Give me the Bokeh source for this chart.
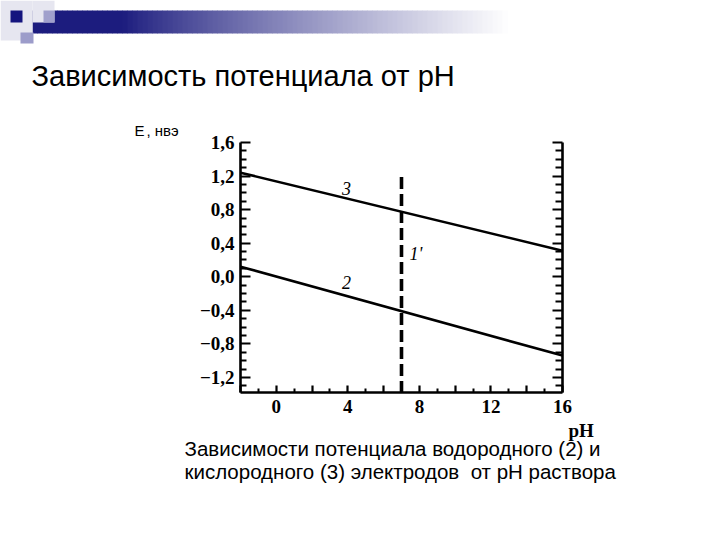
from bokeh.plotting import figure
from bokeh.models import (Range1d, LinearAxis, FixedTicker, CustomJSTickFormatter)
from bokeh.core.properties import value
from bokeh.embed import file_html
from bokeh.resources import INLINE

# ---------------- data ----------------
ph = [-2, 16]
e_hydrogen = [0.12, -0.94]      # line 2
e_oxygen = [1.24, 0.31]         # line 3
neutral_ph = [7, 7]             # line 1'
neutral_e = [1.19, -1.38]

y_major_ticks = [-1.2, -0.8, -0.4, 0.0, 0.4, 0.8, 1.2, 1.6]
y_minor_ticks = [-1.3, -1.1, -1.0, -0.9, -0.7, -0.6, -0.5, -0.3, -0.2, -0.1,
                 0.1, 0.2, 0.3, 0.5, 0.6, 0.7, 0.9, 1.0, 1.1, 1.3, 1.4, 1.5]
x_major_ticks = [-2, 0, 2, 4, 6, 8, 10, 12, 14, 16]
x_minor_ticks = [-1, 1, 3, 5, 7, 9, 11, 13, 15]

curve_labels = ["3", "2", "1'"]
curve_label_x = [3.93, 3.93, 7.81]
curve_label_y = [1.05, -0.065, 0.274]

title_text = "Зависимость потенциала от pH"
caption_lines = ["Зависимости потенциала водородного (2) и",
                 "кислородного (3) электродов\u00a0 от pH раствора"]

SANS = "'Liberation Sans', Arial, sans-serif"
SERIF = "'Liberation Serif', 'Times New Roman', serif"

# ---------------- geometry ----------------
W, H = 720, 540
FL, FR, FT, FB = 240, 562, 142, 392          # chart box in canvas pixels
X0, X1, Y0, Y1 = -2.0, 16.0, -1.38, 1.6      # chart box in data units
sx = (X1 - X0) / (FR - FL)
sy = (Y1 - Y0) / (FB - FT)
x_range = Range1d(X0 - FL * sx, X1 + (W - FR) * sx)
y_range = Range1d(Y0 - (H - FB) * sy, Y1 + FT * sy)

p = figure(width=W, height=H, x_range=x_range, y_range=y_range,
           output_backend="svg", toolbar_location=None,
           x_axis_location=None, y_axis_location=None, min_border=0)
p.grid.visible = False
p.outline_line_color = None
p.extra_x_ranges = {"px": Range1d(0, W)}
p.extra_y_ranges = {"px": Range1d(H, 0)}

# ---------------- slide decoration + title ----------------
n = 95
lefts, rights, cols = [], [], []
for i in range(n):
    x0 = 32 + i * 5
    t = max(0.0, (x0 - 120) / 385.0)
    t = min(1.0, t) ** 0.85
    r = int(28 + (255 - 28) * t)
    g = int(28 + (255 - 28) * t)
    b = int(126 + (255 - 126) * t)
    lefts.append(x0)
    rights.append(x0 + 5.5)
    cols.append("#%02x%02x%02x" % (r, g, b))
p.quad(left=lefts, right=rights, top=[10] * n, bottom=[33] * n,
       fill_color=cols, line_color=None, x_range_name="px", y_range_name="px")
p.quad(left=[0, 32], right=[32, 54], top=[0, 0], bottom=[40, 22],
       fill_color=["#e6e6f0", "#e6e6f0"], line_color=None,
       x_range_name="px", y_range_name="px")
p.quad(left=[43], right=[54], top=[10], bottom=[22], fill_color="#a0a0cc",
       line_color=None, x_range_name="px", y_range_name="px")
p.quad(left=[20], right=[33], top=[32], bottom=[43], fill_color="#9c9cca",
       line_color=None, x_range_name="px", y_range_name="px")
p.quad(left=[10], right=[22], top=[10], bottom=[22], fill_color="#14147e",
       line_color=None, x_range_name="px", y_range_name="px")

p.text(x=[31], y=[75], text=[title_text], text_font=value(SANS),
       text_font_size="29px", text_color="#000000", text_baseline="alphabetic",
       text_align="left", x_range_name="px", y_range_name="px")

# ---------------- axes ----------------
def style_axis(ax, major_in, minor_in):
    ax.axis_line_width = 2.6
    ax.axis_line_color = "#000000"
    ax.major_tick_line_width = 2.2
    ax.minor_tick_line_width = 2.0
    ax.major_tick_line_color = "#000000"
    ax.minor_tick_line_color = "#000000"
    ax.major_tick_in = major_in
    ax.major_tick_out = 0
    ax.minor_tick_in = minor_in
    ax.minor_tick_out = 0
    ax.major_label_text_font = SERIF
    ax.major_label_text_font_style = "bold"
    ax.major_label_text_font_size = "19px"
    ax.major_label_text_color = "#000000"

y_fmt = CustomJSTickFormatter(code="return tick.toFixed(1).replace('.', ',').replace('-', '\\u2212');")
x_fmt = CustomJSTickFormatter(code="var t = Math.round(tick); return (t % 4 === 0) ? t.toString() : '';")

yl = LinearAxis(ticker=FixedTicker(ticks=y_major_ticks, minor_ticks=y_minor_ticks),
                formatter=y_fmt, fixed_location=X0, bounds=(Y0, Y1))
style_axis(yl, 10, 6)
yl.major_label_standoff = 6
p.add_layout(yl, "left")

yr = LinearAxis(ticker=FixedTicker(ticks=y_major_ticks, minor_ticks=y_minor_ticks),
                formatter=y_fmt, fixed_location=X1, bounds=(Y0, Y1))
style_axis(yr, 10, 7)
yr.major_label_text_color = None
p.add_layout(yr, "right")

xb = LinearAxis(ticker=FixedTicker(ticks=x_major_ticks, minor_ticks=x_minor_ticks),
                formatter=x_fmt, fixed_location=Y0, bounds=(X0, X1))
style_axis(xb, 7, 4)
xb.major_label_standoff = 7
p.add_layout(xb, "below")

# ---------------- data lines ----------------
p.line(ph, e_oxygen, line_color="#000000", line_width=2.6)
p.line(ph, e_hydrogen, line_color="#000000", line_width=2.6)
p.line(neutral_ph, neutral_e, line_color="#000000", line_width=3.6, line_dash="12 5")

p.text(x=curve_label_x, y=curve_label_y, text=curve_labels, text_font=value(SERIF),
       text_font_style="italic", text_font_size="18px", text_align="center",
       text_baseline="middle", text_color="#000000")

# ---------------- axis titles and caption ----------------
p.text(x=[134], y=[130], text=["Е"], text_font=value(SANS), text_font_size="15px",
       text_color="#000000", text_baseline="alphabetic", x_range_name="px", y_range_name="px")
p.text(x=[146], y=[130], text=[", нвэ"], text_font=value(SANS), text_font_size="15px",
       text_color="#000000", text_baseline="alphabetic", x_range_name="px", y_range_name="px")
p.text(x=[568], y=[430], text=["pH"], text_font=value(SERIF), text_font_style="bold",
       text_font_size="19px", text_color="#000000", text_baseline="alphabetic",
       x_range_name="px", y_range_name="px")
p.text(x=[184, 184], y=[448, 471], text=caption_lines, text_font=value(SANS),
       text_font_size="20.5px", text_color="#000000", text_baseline="alphabetic",
       x_range_name="px", y_range_name="px")

open("out.html", "w").write(file_html(p, INLINE))
